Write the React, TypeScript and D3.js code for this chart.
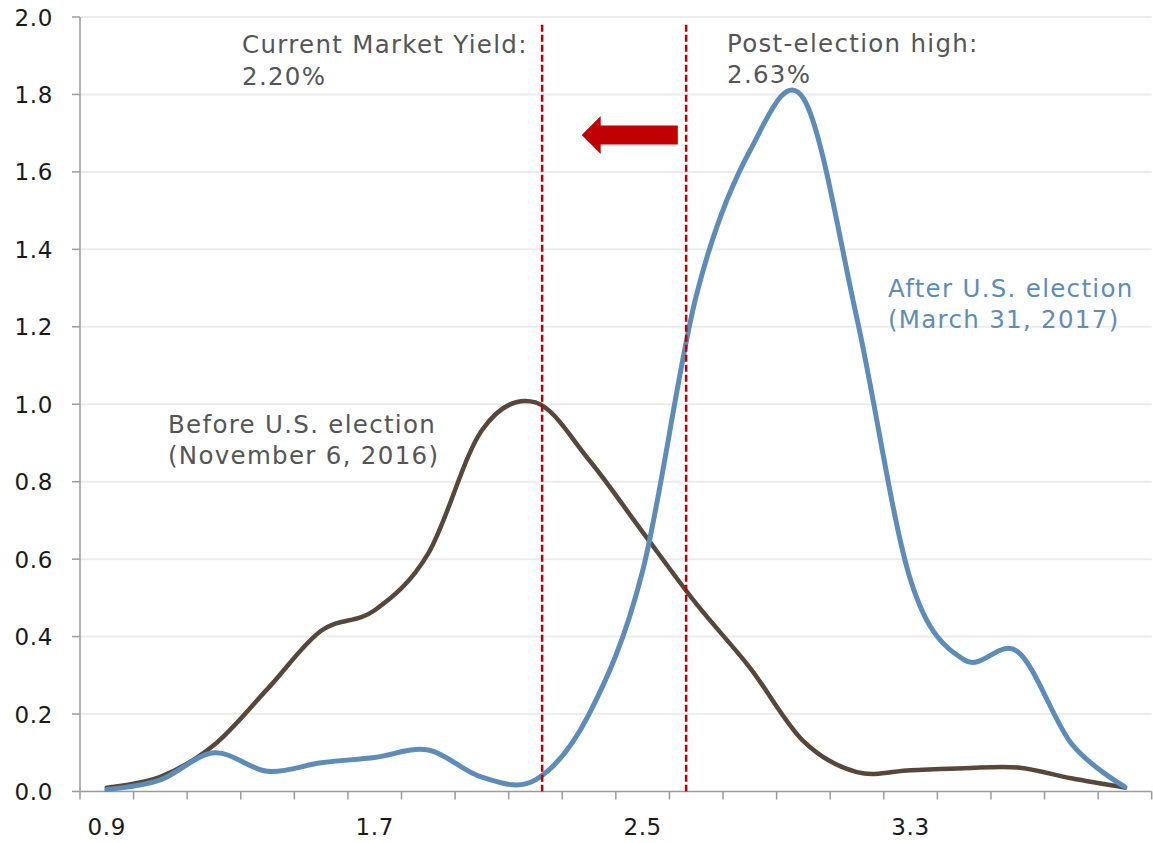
import React from "react";
import * as d3 from "d3";

// Yield levels (%) along the horizontal axis, one per category
const yieldLevels = [
  0.9, 1.06, 1.22, 1.38, 1.54, 1.7, 1.86, 2.02, 2.18, 2.34,
  2.5, 2.66, 2.82, 2.98, 3.14, 3.3, 3.46, 3.62, 3.78, 3.94,
];

// Probability density before the election (November 6, 2016)
const beforeElection = [
  0.01, 0.038, 0.12, 0.265, 0.415, 0.468, 0.615, 0.933, 1.005, 0.856,
  0.67, 0.485, 0.32, 0.13, 0.05, 0.055, 0.06, 0.062, 0.034, 0.01,
];

// Probability density after the election (March 31, 2017)
const afterElection = [
  0.005, 0.03, 0.1, 0.052, 0.074, 0.088, 0.107, 0.037, 0.03, 0.2,
  0.57, 1.28, 1.654, 1.79, 1.221, 0.546, 0.34, 0.361, 0.124, 0.012,
];

const xTickLabels = [0.9, 1.7, 2.5, 3.3];
const yTicks = [0, 0.2, 0.4, 0.6, 0.8, 1.0, 1.2, 1.4, 1.6, 1.8, 2.0];

const currentYield = 2.2;
const postElectionHigh = 2.63;

const WIDTH = 1153;
const HEIGHT = 843;
const FONT = "'DejaVu Sans', Verdana, sans-serif";

const BROWN = "#56473a";
const BLUE = "#5e8cb9";
const RED = "#c00000";
const TEXT = "#555555";

export default function App() {
  const step = yieldLevels[1] - yieldLevels[0];
  const x = d3
    .scaleLinear()
    .domain([yieldLevels[0] - step / 2, yieldLevels[yieldLevels.length - 1] + step / 2])
    .range([80, 1151.7]);
  const y = d3.scaleLinear().domain([0, 2]).range([791.5, 17]);

  // category boundaries for the tick marks
  const boundaries = [
    x.domain()[0],
    ...yieldLevels.slice(1).map((v, i) => (v + yieldLevels[i]) / 2),
    x.domain()[1],
  ];

  const line = d3
    .line<number>()
    .x((_, i) => x(yieldLevels[i]))
    .y((d) => y(d))
    .curve(d3.curveCardinal.tension(0));

  const x0 = x.range()[0];
  const x1 = x.range()[1];
  const yBase = y(0);

  // arrow pointing from the post-election high back toward the current yield
  const arrowY = y(1.695);
  const arrowTip = x(2.318);
  const arrowEnd = x(2.605);
  const headLen = 19;
  const arrowPts = [
    [arrowTip, arrowY],
    [arrowTip + headLen, arrowY - 19],
    [arrowTip + headLen, arrowY - 9.5],
    [arrowEnd, arrowY - 9.5],
    [arrowEnd, arrowY + 9.5],
    [arrowTip + headLen, arrowY + 9.5],
    [arrowTip + headLen, arrowY + 19],
  ]
    .map((p) => p.join(","))
    .join(" ");

  return (
    <svg
      width={WIDTH}
      height={HEIGHT}
      style={{ position: "absolute", left: 0, top: 0, background: "#fff" }}
      fontFamily={FONT}
    >
      {/* gridlines */}
      {yTicks.slice(1).map((t) => (
        <line key={t} x1={x0} x2={x1} y1={y(t)} y2={y(t)} stroke="#ececec" strokeWidth={2} />
      ))}

      {/* y axis */}
      <line x1={x0} x2={x0} y1={y(2)} y2={yBase} stroke="#9a9a9a" strokeWidth={1.5} />
      {yTicks.map((t) => (
        <g key={t}>
          <line x1={72} x2={x0} y1={y(t)} y2={y(t)} stroke="#9a9a9a" strokeWidth={1.5} />
          <text
            x={53}
            y={y(t) + 8.5}
            textAnchor="end"
            fontSize={23}
            letterSpacing={0.6}
            fill="#1a1a1a"
          >
            {t.toFixed(1)}
          </text>
        </g>
      ))}

      {/* x axis */}
      <line x1={x0} x2={x1} y1={yBase} y2={yBase} stroke="#9a9a9a" strokeWidth={1.5} />
      {boundaries.map((b, i) => (
        <line key={i} x1={x(b)} x2={x(b)} y1={yBase} y2={yBase + 8} stroke="#9a9a9a" strokeWidth={1.5} />
      ))}
      {xTickLabels.map((t) => (
        <text key={t} x={x(t)} y={835} textAnchor="middle" fontSize={23} letterSpacing={0.6} fill="#1a1a1a">
          {t.toFixed(1)}
        </text>
      ))}

      {/* density curves */}
      <path d={line(beforeElection) ?? ""} fill="none" stroke={BROWN} strokeWidth={4.5} strokeLinejoin="round" strokeLinecap="round" />
      <path d={line(afterElection) ?? ""} fill="none" stroke={BLUE} strokeWidth={5} strokeLinejoin="round" strokeLinecap="round" />

      {/* reference yields */}
      {[currentYield, postElectionHigh].map((v) => (
        <line
          key={v}
          x1={x(v)}
          x2={x(v)}
          y1={y(1.98)}
          y2={yBase}
          stroke={RED}
          strokeWidth={2.5}
          strokeDasharray="7,3"
        />
      ))}

      <polygon points={arrowPts} fill={RED} />

      {/* annotations */}
      <g fontSize={24.5} letterSpacing={1.3} fill={TEXT}>
        <text x={242} y={53}>Current Market Yield:</text>
        <text x={242} y={85}>{currentYield.toFixed(2)}%</text>
        <text x={727} y={52}>Post-election high:</text>
        <text x={727} y={83}>{postElectionHigh.toFixed(2)}%</text>
        <text x={168} y={433}>Before U.S. election</text>
        <text x={168} y={464}>(November 6, 2016)</text>
      </g>
      <g fontSize={24.5} letterSpacing={1.3} fill={BLUE}>
        <text x={888} y={297}>After U.S. election</text>
        <text x={888} y={328}>(March 31, 2017)</text>
      </g>
    </svg>
  );
}
